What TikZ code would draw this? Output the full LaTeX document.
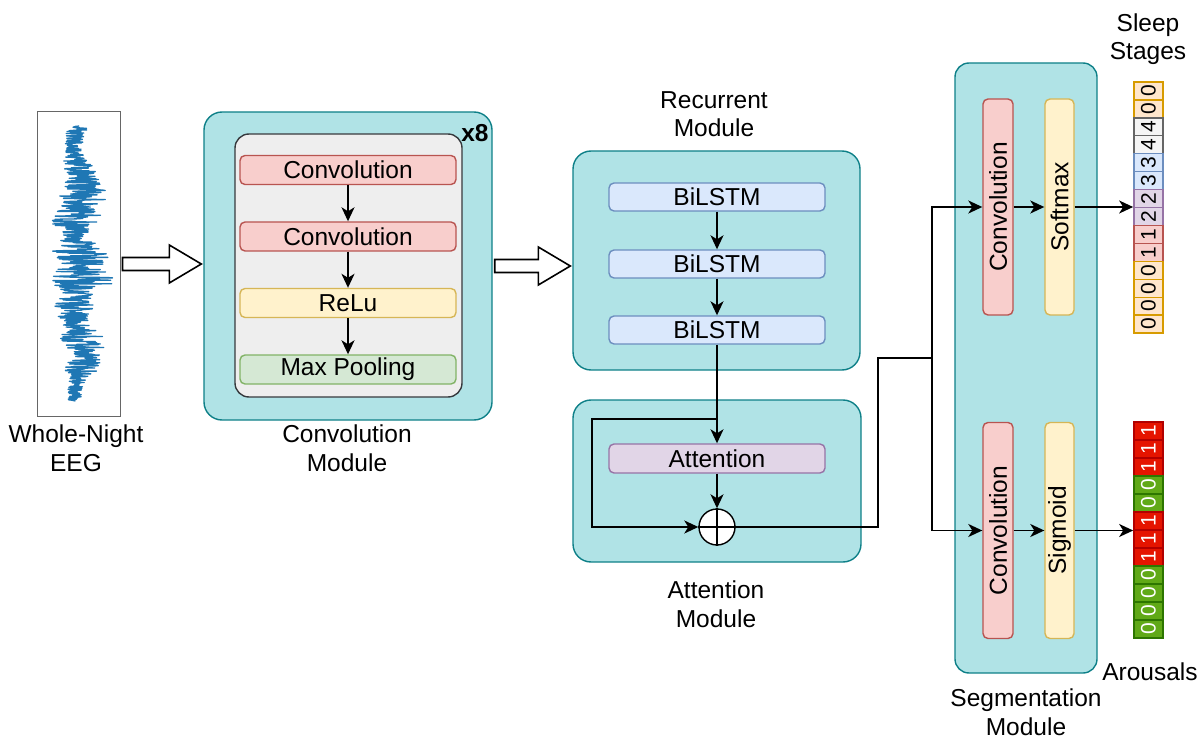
\documentclass[tikz,border=0pt]{standalone}
\usepackage{fontspec}
\usepackage{graphicx}
\setmainfont{Liberation Sans}
\usetikzlibrary{arrows.meta,calc,fit}
\definecolor{modfill}{HTML}{B0E3E6}
\definecolor{modstroke}{HTML}{0E8088}
\definecolor{grayfill}{HTML}{EEEEEE}
\definecolor{graystroke}{HTML}{36393D}
\definecolor{redfill}{HTML}{F8CECC}
\definecolor{redstroke}{HTML}{B85450}
\definecolor{yelfill}{HTML}{FFF2CC}
\definecolor{yelstroke}{HTML}{D6B656}
\definecolor{grnfill}{HTML}{D5E8D4}
\definecolor{grnstroke}{HTML}{82B366}
\definecolor{bluefill}{HTML}{DAE8FC}
\definecolor{bluestroke}{HTML}{6C8EBF}
\definecolor{purfill}{HTML}{E1D5E7}
\definecolor{purstroke}{HTML}{9673A6}
\definecolor{orfill}{HTML}{FFE6CC}
\definecolor{orstroke}{HTML}{D79B00}
\definecolor{gyfill}{HTML}{F5F5F5}
\definecolor{gystroke}{HTML}{666666}
\definecolor{arred}{HTML}{E51400}
\definecolor{arredstroke}{HTML}{B20000}
\definecolor{argreen}{HTML}{60A917}
\definecolor{argreenstroke}{HTML}{2D7600}
\definecolor{eegblue}{HTML}{1F77B4}
\newcommand\mainfs{\fontsize{24.5}{28.5}\selectfont}
\begin{document}
\begin{tikzpicture}[x=1pt,y=-1pt,
  module/.style={draw=modstroke, fill=modfill, rounded corners=18pt, line width=1.4pt, inner sep=0pt},
  blk/.style={rounded corners=5pt, line width=1.4pt, inner sep=0pt, font=\mainfs},
  hblk/.style={blk, minimum width=216pt, minimum height=29pt},
  vblk/.style={blk, minimum width=30pt, minimum height=216pt},
  redb/.style={fill=redfill, draw=redstroke},
  yelb/.style={fill=yelfill, draw=yelstroke},
  grnb/.style={fill=grnfill, draw=grnstroke},
  blueb/.style={fill=bluefill, draw=bluestroke},
  purb/.style={fill=purfill, draw=purstroke},
  lbl/.style={font=\mainfs, align=center, inner sep=0pt},
  cell/.style={minimum width=29pt, minimum height=17.93pt, inner sep=0pt, line width=1.3pt, font=\fontsize{21}{22}\selectfont},
  stage0/.style={fill=orfill, draw=orstroke},
  stage1/.style={fill=redfill, draw=redstroke},
  stage2/.style={fill=purfill, draw=purstroke},
  stage3/.style={fill=bluefill, draw=bluestroke},
  stage4/.style={fill=gyfill, draw=gystroke},
  arou0/.style={fill=argreen, draw=argreenstroke, text=white},
  arou1/.style={fill=arred, draw=arredstroke, text=white},
  line/.style={line width=1.7pt},
  arr/.style={line width=1.7pt, -{Stealth[length=14pt,width=13pt,inset=4pt]}},
  hollow/.style={draw=black, fill=white, line width=1.6pt, line join=miter}
]
\useasboundingbox (0,0) rectangle (1203,738);

% EEG
\node[draw=gystroke, line width=1pt, minimum width=83pt, minimum height=304pt, inner sep=0pt] (eeg) at (78.5,264) {};
\pgfmathsetseed{11}
\draw[eegblue, line width=1.3pt, line join=round] plot[samples=700, domain=126:401, variable=\t]
  ({79 + 5*sin(\t*4.3) + (0.35+0.65*sin((\t-126)*0.6545))*(10 + 13*abs(sin(\t*2.3)) + 9*abs(sin(\t*6.1)))*rand}, \t);
\node[lbl] (eeglbl) at (76,448) {Whole-Night\\EEG};

% Convolution module
\node[module, minimum width=288pt, minimum height=308pt] (convmod) at (348,266) {};
\node[draw=graystroke, fill=grayfill, rounded corners=14pt, line width=1.4pt, minimum width=227pt, minimum height=263pt, inner sep=0pt] (inner) at (348.5,265.5) {};
\node[font=\mainfs\bfseries, inner sep=0pt] (x8) at (475,133) {x8};
\node[hblk, redb] (c1) at (348,170) {Convolution};
\node[hblk, redb] (c2) at (348,236.5) {Convolution};
\node[hblk, yelb] (relu) at (348,303) {ReLu};
\node[hblk, grnb] (mp) at (348,369.5) {Max Pooling};
\draw[arr] (c1.south) -- (c2.north);
\draw[arr] (c2.south) -- (relu.north);
\draw[arr] (relu.south) -- (mp.north);
\node[lbl] (convlbl) at (347,448) {Convolution\\Module};

% Recurrent module
\node[module, minimum width=287pt, minimum height=219pt] (recmod) at (716.5,260.5) {};
\node[lbl] (reclbl) at (714,114) {Recurrent\\Module};
\node[hblk, blueb, minimum height=28pt] (b1) at (717,197) {BiLSTM};
\node[hblk, blueb, minimum height=28pt] (b2) at (717,264) {BiLSTM};
\node[hblk, blueb, minimum height=28pt] (b3) at (717,330) {BiLSTM};
\draw[arr] (b1.south) -- (b2.north);
\draw[arr] (b2.south) -- (b3.north);

% Attention module
\node[module, minimum width=288pt, minimum height=162pt] (attmod) at (717,481) {};
\node[lbl] (attlbl) at (716,604) {Attention\\Module};
\node[hblk, purb] (att) at (717,458.5) {Attention};
\node[circle, draw, fill=white, minimum size=36pt, inner sep=0pt, line width=1.4pt] (plus) at (717,527) {};
\draw[line width=1.4pt] (plus.north) -- (plus.south) (plus.west) -- (plus.east);
\draw[arr] (b3.south) -- (att.north);
\draw[arr] (att.south) -- (plus.north);
\coordinate (split) at (717,419);
\coordinate (skipL) at (592,419);
\draw[arr] (split) -- (skipL) |- (plus.west);

% hollow arrows
\newcommand\hollowarr[2]{%
  \draw[hollow] ($(#1.east)+(2,-6.5)$) -- ($(#2.west |- #1.east)+(-34,-6.5)$) -- ($(#2.west |- #1.east)+(-34,-19)$)
   -- ($(#2.west |- #1.east)+(-2,0)$) -- ($(#2.west |- #1.east)+(-34,19)$) -- ($(#2.west |- #1.east)+(-34,6.5)$)
   -- ($(#1.east)+(2,6.5)$) -- cycle;}
\hollowarr{eeg}{convmod}
\hollowarr{convmod}{recmod}

% Segmentation module
\node[module, rounded corners=14pt, minimum width=142pt, minimum height=610pt] (segmod) at (1026,368) {};
\node[lbl] (seglbl) at (1026,712) {Segmentation\\Module};
\node[vblk, redb] (sc1) at (998,207) {\rotatebox{90}{Convolution}};
\node[vblk, yelb, minimum width=29pt] (soft) at (1059.5,207) {\rotatebox{90}{Softmax}};
\node[vblk, redb] (sc2) at (998,530.5) {\rotatebox{90}{Convolution}};
\node[vblk, yelb, minimum width=29pt] (sig) at (1059.5,530.5) {\rotatebox{90}{Sigmoid}};
\draw[arr] (sc1.east) -- (soft.west);
\draw[arr] (sc2.east) -- (sig.west);

\coordinate (o1) at (878,527);
\coordinate (o2) at (932,358);
\draw[line] (plus.east) -- (o1) |- (o2);
\draw[arr] (o2) |- (sc1.west);
\draw[arr] (o2) |- (sc2.west);

% Sleep stages
\foreach \v [count=\i from 0] in {0,0,4,4,3,3,2,2,1,1,0,0,0,0} {
  \node[cell, stage\v] (s\i) at (1148.5, {82+17.93*(\i+0.5)}) {\rotatebox{90}{\v}};
}
\node[fit=(s0)(s13), inner sep=0pt] (stages) {};
\node[lbl] (stagelbl) at (1148,39) {Sleep\\Stages};
\draw[arr] (soft.east) -- (stages.west |- soft.east);

% Arousals
\foreach \v [count=\i from 0] in {1,1,1,0,0,1,1,1,0,0,0,0} {
  \node[cell, minimum height=18pt, arou\v] (a\i) at (1148.5, {422+18*(\i+0.5)}) {\rotatebox{90}{\v}};
}
\node[fit=(a0)(a11), inner sep=0pt] (arousals) {};
\node[lbl] (aroulbl) at (1150,672) {Arousals};
\draw[arr] (sig.east) -- (arousals.west |- sig.east);
\end{tikzpicture}
\end{document}
